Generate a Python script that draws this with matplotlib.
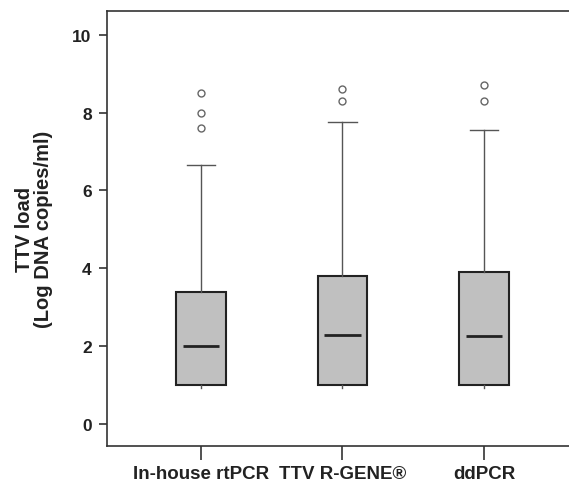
import matplotlib
matplotlib.use("Agg")
import matplotlib.pyplot as plt

plt.rcParams['font.family'] = ['Liberation Sans', 'DejaVu Sans']

methods = ["In-house rtPCR", "TTV R-GENE®", "ddPCR"]
q1 = [1.0, 1.0, 1.0]
medians = [2.0, 2.3, 2.25]
q3 = [3.4, 3.8, 3.9]
whisk_lo = [0.92, 0.92, 0.92]
whisk_hi = [6.65, 7.75, 7.55]
outliers = [[7.6, 8.0, 8.5], [8.3, 8.6], [8.3, 8.7]]

stats = []
for i in range(len(methods)):
    stats.append({"med": medians[i], "q1": q1[i], "q3": q3[i],
                  "whislo": whisk_lo[i], "whishi": whisk_hi[i],
                  "fliers": outliers[i], "label": methods[i]})

fig = plt.figure(figsize=(5.69, 4.89), dpi=100)
ax = fig.add_axes([0.188, 0.086, 0.82, 0.889])

pos = [1, 2, 3]
bp = ax.bxp(stats, positions=pos, widths=0.35, patch_artist=True,
            boxprops=dict(facecolor="#c0c0c0", edgecolor="#222222", linewidth=1.5),
            whiskerprops=dict(color="#555555", linewidth=1.0),
            capprops=dict(color="#555555", linewidth=1.0),
            medianprops=dict(color="#222222", linewidth=2.0),
            flierprops=dict(marker="o", markerfacecolor="none", markeredgecolor="#666666",
                            markersize=5, markeredgewidth=1.0),
            capwidths=0.2)

# only the top caps are drawn in the original
for i in range(len(methods)):
    bp["caps"][2 * i].set_visible(False)
    m = bp["medians"][i]
    m.set_xdata([pos[i] - 0.13, pos[i] + 0.13])

ax.set_xlim(0.336, 3.633)
ax.set_ylim(-0.56, 10.6)
ax.set_yticks([0, 2, 4, 6, 8, 10])
ax.set_xticks(pos)
ax.set_xticklabels(methods, fontsize=13.5, fontweight="bold", color="#222222")
for t in ax.get_yticklabels():
    t.set_fontsize(12.5)
    t.set_fontweight("bold")
    t.set_color("#222222")
ax.tick_params(axis="x", length=10, width=1.2, pad=4, color="#333333")
ax.tick_params(axis="y", length=6, width=1.2, pad=5, color="#333333")
ax.set_ylabel("TTV load\n(Log DNA copies/ml)", fontsize=14.5, fontweight="bold",
              color="#222222", labelpad=14, linespacing=1.0)
for s in ax.spines.values():
    s.set_linewidth(1.2)
    s.set_color("#333333")

fig.savefig("out.png", dpi=100)
